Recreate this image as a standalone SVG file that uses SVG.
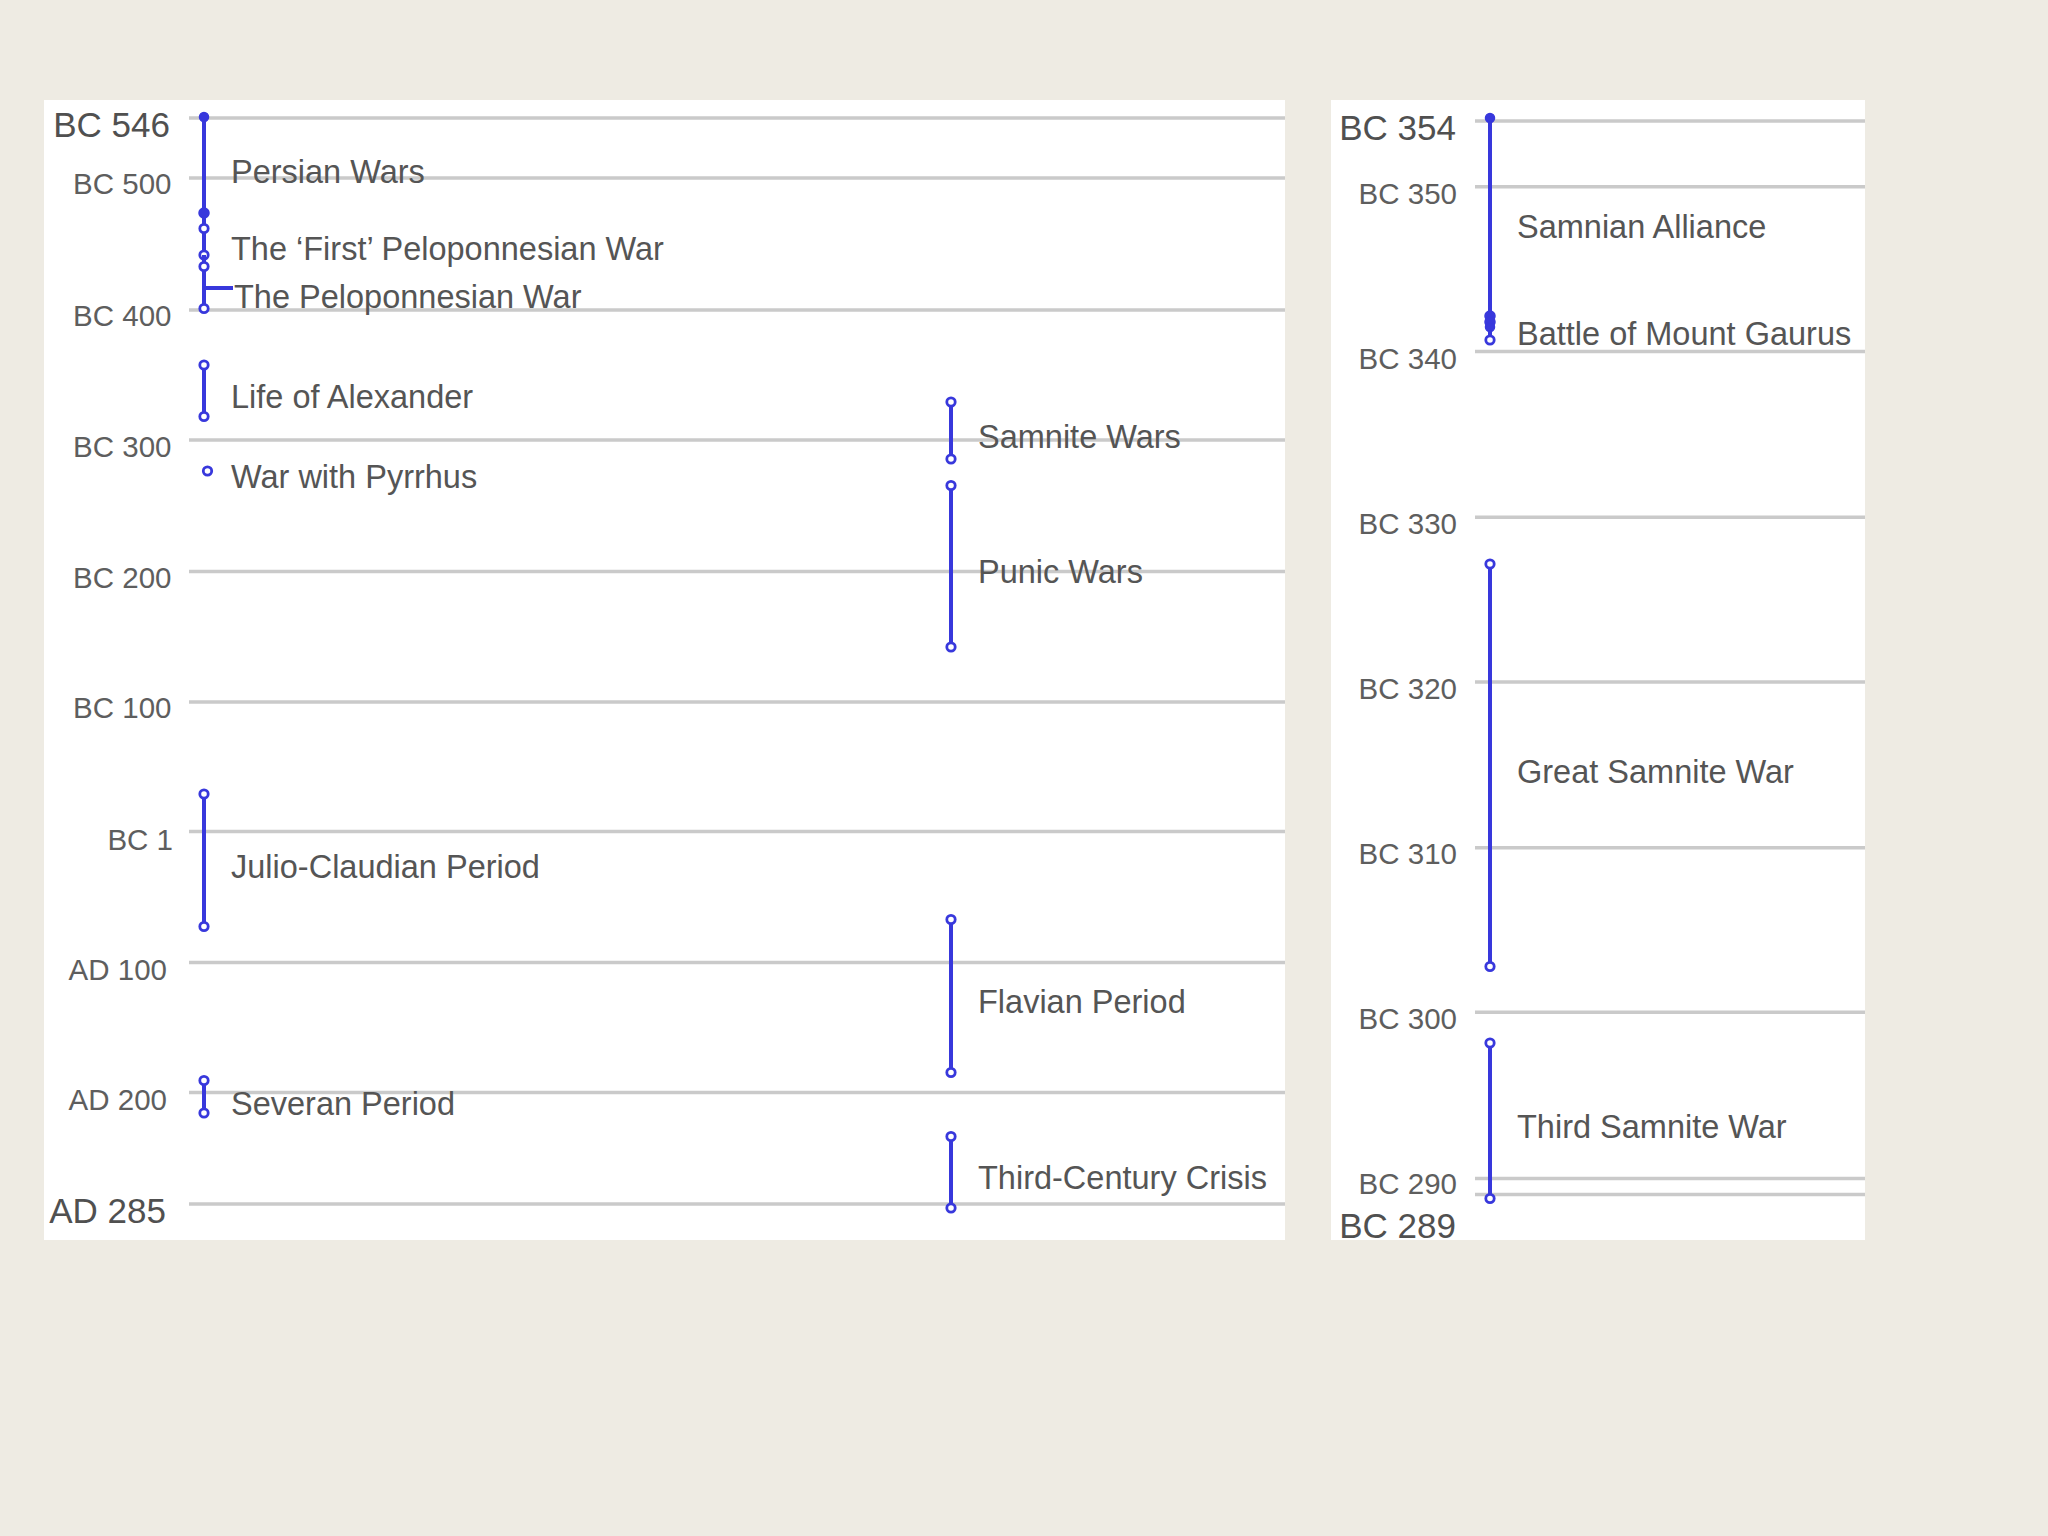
<svg xmlns="http://www.w3.org/2000/svg" width="2048" height="1536" viewBox="0 0 2048 1536">
<style>
text{font-family:"Liberation Sans",Arial,sans-serif;}
.ax{font-size:29.5px;fill:#5e5e5e;text-anchor:end;}
.axb{font-size:35px;fill:#505050;text-anchor:end;}
.ev{font-size:32.5px;fill:#555555;}
.grid{stroke:#cacaca;stroke-width:3.5;fill:none;}
.bar{stroke:#3838dc;stroke-width:4;fill:none;}
.end{stroke:#3838dc;stroke-width:2.8;fill:#ffffff;}
.dot{fill:#3838dc;stroke:#3838dc;stroke-width:1.5;}
</style>
<rect x="0" y="0" width="2048" height="1536" fill="#eeebe3"/>

<g id="panel-left">
<rect x="44" y="100" width="1241" height="1140" fill="#ffffff"/>
<g id="grid-left">
<line class="grid" x1="189" y1="118" x2="1285" y2="118"/>
<line class="grid" x1="189" y1="178" x2="1285" y2="178"/>
<line class="grid" x1="189" y1="310" x2="1285" y2="310"/>
<line class="grid" x1="189" y1="440" x2="1285" y2="440"/>
<line class="grid" x1="189" y1="571.5" x2="1285" y2="571.5"/>
<line class="grid" x1="189" y1="702" x2="1285" y2="702"/>
<line class="grid" x1="189" y1="831.5" x2="1285" y2="831.5"/>
<line class="grid" x1="189" y1="962.5" x2="1285" y2="962.5"/>
<line class="grid" x1="189" y1="1092.5" x2="1285" y2="1092.5"/>
<line class="grid" x1="189" y1="1204" x2="1285" y2="1204"/>
</g>
<g id="axis-left">
<text class="axb" x="170" y="137">BC 546</text>
<text class="ax" x="171.5" y="193.5">BC 500</text>
<text class="ax" x="171.5" y="325.5">BC 400</text>
<text class="ax" x="171.5" y="456.5">BC 300</text>
<text class="ax" x="171.5" y="588">BC 200</text>
<text class="ax" x="171.5" y="718">BC 100</text>
<text class="ax" x="173" y="849.5">BC 1</text>
<text class="ax" x="167" y="980">AD 100</text>
<text class="ax" x="167" y="1110">AD 200</text>
<text class="axb" x="166" y="1223">AD 285</text>
</g>
</g>

<g id="panel-right">
<rect x="1331" y="100" width="534" height="1140" fill="#ffffff"/>
<g id="grid-right">
<line class="grid" x1="1475" y1="121" x2="1865" y2="121"/>
<line class="grid" x1="1475" y1="186.8" x2="1865" y2="186.8"/>
<line class="grid" x1="1475" y1="351.5" x2="1865" y2="351.5"/>
<line class="grid" x1="1475" y1="517.3" x2="1865" y2="517.3"/>
<line class="grid" x1="1475" y1="682" x2="1865" y2="682"/>
<line class="grid" x1="1475" y1="847.7" x2="1865" y2="847.7"/>
<line class="grid" x1="1475" y1="1012.3" x2="1865" y2="1012.3"/>
<line class="grid" x1="1475" y1="1178.5" x2="1865" y2="1178.5"/>
<line class="grid" x1="1475" y1="1194.5" x2="1865" y2="1194.5"/>
</g>
<g id="axis-right">
<text class="axb" x="1456" y="140">BC 354</text>
<text class="ax" x="1457" y="203.5">BC 350</text>
<text class="ax" x="1457" y="368.5">BC 340</text>
<text class="ax" x="1457" y="533.5">BC 330</text>
<text class="ax" x="1457" y="698.5">BC 320</text>
<text class="ax" x="1457" y="863.5">BC 310</text>
<text class="ax" x="1457" y="1028.5">BC 300</text>
<text class="ax" x="1457" y="1193.5">BC 290</text>
<text class="axb" x="1456" y="1238">BC 289</text>
</g>
</g>

<g id="connectors">
<line class="bar" x1="204" y1="288" x2="233" y2="288" stroke-width="2.8"/>
</g>

<g id="persian-wars">
<line class="bar" x1="204" y1="117" x2="204" y2="213"/>
<circle class="dot" cx="204" cy="117" r="4.5"/>
<circle class="dot" cx="204" cy="213" r="5"/>
<text class="ev" x="231" y="182.5">Persian Wars</text>
</g>
<g id="first-peloponnesian-war">
<line class="bar" x1="204" y1="213" x2="204" y2="255"/>
<circle class="end" cx="204" cy="228.5" r="4.2"/>
<circle class="end" cx="204" cy="255" r="4.2"/>
<text class="ev" x="231" y="259.5">The ‘First’ Peloponnesian War</text>
</g>
<g id="peloponnesian-war">
<line class="bar" x1="204" y1="255" x2="204" y2="308.5"/>
<circle class="end" cx="204" cy="266.5" r="4.2"/>
<circle class="end" cx="204" cy="308.5" r="4.2"/>
<text class="ev" x="234" y="308">The Peloponnesian War</text>
</g>
<g id="life-of-alexander">
<line class="bar" x1="204" y1="365" x2="204" y2="416.5"/>
<circle class="end" cx="204" cy="365" r="4.2"/>
<circle class="end" cx="204" cy="416.5" r="4.2"/>
<text class="ev" x="231" y="407.5">Life of Alexander</text>
</g>
<g id="war-with-pyrrhus">
<circle class="end" cx="207.5" cy="471" r="4.2"/>
<text class="ev" x="231" y="487.5">War with Pyrrhus</text>
</g>
<g id="julio-claudian-period">
<line class="bar" x1="204" y1="794" x2="204" y2="926.5"/>
<circle class="end" cx="204" cy="794" r="4.2"/>
<circle class="end" cx="204" cy="926.5" r="4.2"/>
<text class="ev" x="231" y="877.5">Julio-Claudian Period</text>
</g>
<g id="severan-period">
<line class="bar" x1="204" y1="1080.5" x2="204" y2="1113"/>
<circle class="end" cx="204" cy="1080.5" r="4.2"/>
<circle class="end" cx="204" cy="1113" r="4.2"/>
<text class="ev" x="231" y="1114.5">Severan Period</text>
</g>
<g id="samnite-wars">
<line class="bar" x1="951" y1="402" x2="951" y2="459"/>
<circle class="end" cx="951" cy="402" r="4.2"/>
<circle class="end" cx="951" cy="459" r="4.2"/>
<text class="ev" x="978" y="447.5">Samnite Wars</text>
</g>
<g id="punic-wars">
<line class="bar" x1="951" y1="485.5" x2="951" y2="647"/>
<circle class="end" cx="951" cy="485.5" r="4.2"/>
<circle class="end" cx="951" cy="647" r="4.2"/>
<text class="ev" x="978" y="582.5">Punic Wars</text>
</g>
<g id="flavian-period">
<line class="bar" x1="951" y1="919.5" x2="951" y2="1072.5"/>
<circle class="end" cx="951" cy="919.5" r="4.2"/>
<circle class="end" cx="951" cy="1072.5" r="4.2"/>
<text class="ev" x="978" y="1012.5">Flavian Period</text>
</g>
<g id="third-century-crisis">
<line class="bar" x1="951" y1="1136.5" x2="951" y2="1208"/>
<circle class="end" cx="951" cy="1136.5" r="4.2"/>
<circle class="end" cx="951" cy="1208" r="4.2"/>
<text class="ev" x="978" y="1189">Third-Century Crisis</text>
</g>

<g id="samnian-alliance">
<line class="bar" x1="1490" y1="118" x2="1490" y2="316"/>
<circle class="dot" cx="1490" cy="118" r="4.5"/>
<circle class="dot" cx="1490" cy="316" r="5"/>
<text class="ev" x="1517" y="237.5">Samnian Alliance</text>
</g>
<g id="battle-of-mount-gaurus">
<line class="bar" x1="1490" y1="316" x2="1490" y2="340"/>
<circle class="dot" cx="1490" cy="322" r="5"/>
<circle class="dot" cx="1490" cy="327" r="4.5"/>
<circle class="end" cx="1490" cy="340" r="4.2"/>
<text class="ev" x="1517" y="344.5">Battle of Mount Gaurus</text>
</g>
<g id="great-samnite-war">
<line class="bar" x1="1490" y1="564" x2="1490" y2="966.5"/>
<circle class="end" cx="1490" cy="564" r="4.2"/>
<circle class="end" cx="1490" cy="966.5" r="4.2"/>
<text class="ev" x="1517" y="782.5">Great Samnite War</text>
</g>
<g id="third-samnite-war">
<line class="bar" x1="1490" y1="1043" x2="1490" y2="1198.5"/>
<circle class="end" cx="1490" cy="1043" r="4.2"/>
<circle class="end" cx="1490" cy="1198.5" r="4.2"/>
<text class="ev" x="1517" y="1137.5">Third Samnite War</text>
</g>
</svg>
